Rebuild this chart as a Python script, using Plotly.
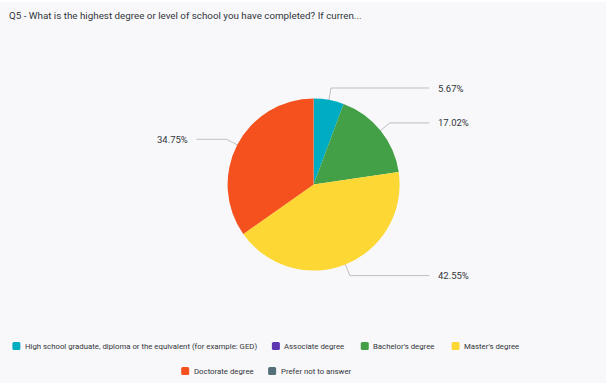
import math
import plotly.graph_objects as go

# Survey responses for Q5 (counts; shares are shown as percentages)
categories = [
    "High school graduate, diploma or the equivalent (for example: GED)",
    "Associate degree",
    "Bachelor's degree",
    "Master's degree",
    "Doctorate degree",
    "Prefer not to answer",
]
counts = [8, 0, 24, 60, 49, 0]
colors = ["#00acc1", "#5e35b1", "#43a047", "#fdd835", "#f4511e", "#546e7a"]

title_text = "Q5 - What is the highest degree or level of school you have completed? If curren..."

W, H = 606, 383
CX, CY, R = 313.6, 184.5, 86.0
FONT = "Roboto, sans-serif"
TEXT_COLOR = "#32363a"

fig = go.Figure()

fig.add_trace(go.Pie(
    labels=categories,
    values=counts,
    marker=dict(colors=colors, line=dict(width=0)),
    sort=False,
    direction="clockwise",
    rotation=0,
    textinfo="none",
    hoverinfo="label+percent",
    showlegend=False,
    domain=dict(x=[(CX - R) / W, (CX + R) / W], y=[(H - CY - R) / H, (H - CY + R) / H]),
))

# Leader lines and percentage labels, placed from each slice's mid-angle
total = sum(counts)
cum = 0.0
annotations = []
for name, v in zip(categories, counts):
    if v > 0:
        theta = 2 * math.pi * (cum + v / 2) / total
        s, c = math.sin(theta), math.cos(theta)
        x0, y0 = CX + 0.5 * R * s, CY - 0.5 * R * c
        x1, y1 = CX + 1.14 * R * s, CY - 1.14 * R * c
        right = s >= 0
        x2 = CX + (1.345 if right else -1.36) * R
        fig.add_trace(go.Scatter(
            x=[x0, x1, x2], y=[y0, y1, y1], mode="lines",
            line=dict(color="rgba(70,70,70,0.32)", width=1),
            hoverinfo="skip", showlegend=False, xaxis="x", yaxis="y",
        ))
        annotations.append(dict(
            x=x2 + (7 if right else -7), y=y1, xref="x", yref="y",
            text=f"{100 * v / total:.2f}%", showarrow=False,
            xanchor="left" if right else "right", yanchor="middle",
            font=dict(family=FONT, size=9.5, color=TEXT_COLOR),
        ))
    cum += v

# Custom legend: two centred rows of swatch + label.
# Approximate label widths in Roboto at 8px, scaled to the chosen size.
LEG_SIZE = 7.8
label_w8 = [240, 65, 67, 59, 63, 74]
rows = [([0, 1, 2, 3], 346.0), ([4, 5], 371.0)]
ROW_CENTER = 266.0
SW, TXT_GAP, ITEM_GAP = 8.0, 2.5, 15.0

shapes = [dict(type="rect", xref="paper", yref="paper", x0=0, x1=1, y0=0, y1=(H - 2) / H,
               fillcolor="#f8f8fa", line=dict(width=0), layer="below")]
for idxs, ycen in rows:
    widths = [label_w8[i] * LEG_SIZE / 8 for i in idxs]
    row_w = sum(SW + TXT_GAP + w for w in widths) + ITEM_GAP * (len(idxs) - 1)
    xs = ROW_CENTER - row_w / 2
    for i, w in zip(idxs, widths):
        r = 1.6
        xa, xb, ya, yb = xs, xs + SW, ycen - SW / 2, ycen + SW / 2
        path = (f"M {xa + r},{ya} L {xb - r},{ya} Q {xb},{ya} {xb},{ya + r} "
                f"L {xb},{yb - r} Q {xb},{yb} {xb - r},{yb} L {xa + r},{yb} "
                f"Q {xa},{yb} {xa},{yb - r} L {xa},{ya + r} Q {xa},{ya} {xa + r},{ya} Z")
        shapes.append(dict(type="path", xref="x", yref="y", path=path,
                           fillcolor=colors[i], line=dict(width=0)))
        annotations.append(dict(
            x=xb + TXT_GAP, y=ycen, xref="x", yref="y", text=categories[i],
            showarrow=False, xanchor="left", yanchor="middle",
            font=dict(family=FONT, size=LEG_SIZE, color=TEXT_COLOR),
        ))
        xs = xb + TXT_GAP + w + ITEM_GAP

annotations.append(dict(
    x=7, y=15, xref="x", yref="y", text=title_text, showarrow=False,
    xanchor="left", yanchor="middle",
    font=dict(family=FONT, size=9.8, color=TEXT_COLOR),
))

fig.update_layout(
    width=W, height=H,
    margin=dict(l=0, r=0, t=0, b=0),
    paper_bgcolor="#ffffff",
    plot_bgcolor="rgba(0,0,0,0)",
    xaxis=dict(range=[0, W], visible=False, fixedrange=True, domain=[0, 1]),
    yaxis=dict(range=[H, 0], visible=False, fixedrange=True, domain=[0, 1]),
    shapes=shapes,
    annotations=annotations,
    showlegend=False,
)

fig.write_html("out.html")
